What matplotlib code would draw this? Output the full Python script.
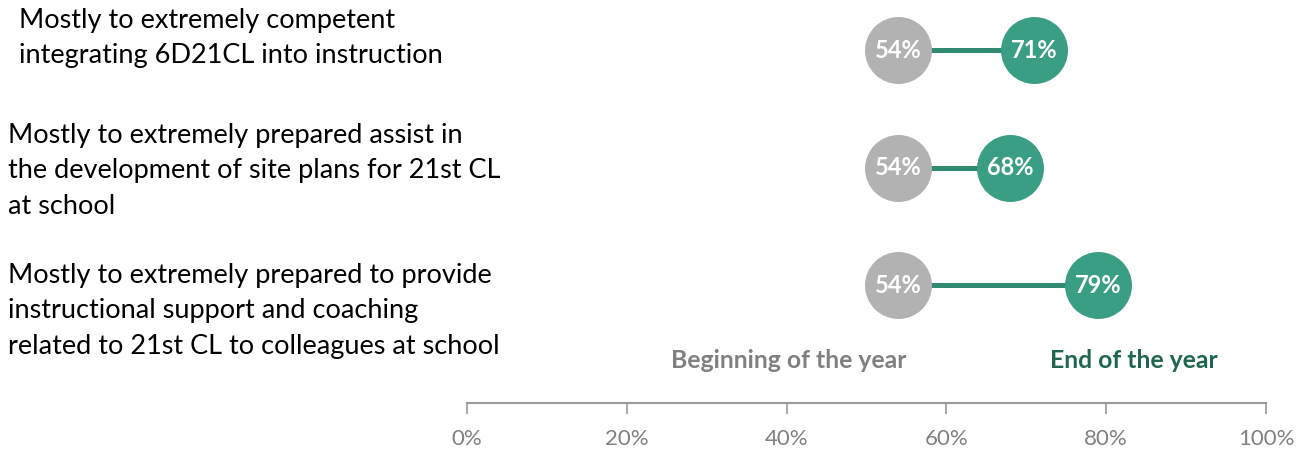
import matplotlib.pyplot as plt

# survey items, beginning vs end of year (% mostly to extremely)
CATEGORIES = [
    "Mostly to extremely competent\nintegrating 6D21CL into instruction",
    "Mostly to extremely prepared assist in\nthe development of site plans for 21st CL\nat school",
    "Mostly to extremely prepared to provide\ninstructional support and coaching\nrelated to 21st CL to colleagues at school",
]
BEGIN_PCT = [54, 54, 54]
END_PCT = [71, 68, 79]
TICKS = [0, 20, 40, 60, 80, 100]

GREY = "#b2b2b2"
GREEN = "#3a9e84"
LINE_GREEN = "#2f8a6f"
DARK_GREEN = "#1f6650"
TEXT_GREY = "#808080"

plt.rcParams["font.family"] = ["Lato", "DejaVu Sans"]

fig = plt.figure(figsize=(13.07, 4.5), dpi=100)
ax = fig.add_axes([467 / 1307, 47 / 450, 799 / 1307, 403 / 450])

rows = list(range(len(CATEGORIES)))
for y, b, e in zip(rows, BEGIN_PCT, END_PCT):
    ax.plot([b, e], [y, y], color=LINE_GREEN, lw=3.6, zorder=1, solid_capstyle="butt")
ax.scatter(BEGIN_PCT, rows, s=2325, color=GREY, zorder=2, linewidths=0)
ax.scatter(END_PCT, rows, s=2325, color=GREEN, zorder=2, linewidths=0)
for y, b, e in zip(rows, BEGIN_PCT, END_PCT):
    ax.text(b, y, f"{b}%", ha="center", va="center", color="white",
            fontsize=17, fontweight="bold", zorder=3)
    ax.text(e, y, f"{e}%", ha="center", va="center", color="white",
            fontsize=17, fontweight="bold", zorder=3)

ax.set_xlim(0, 100)
ax.set_ylim(3.0, -0.425)
ax.set_xticks(TICKS)
ax.set_xticklabels([f"{t}%" for t in TICKS], fontsize=16, color=TEXT_GREY)
ax.set_yticks([])
ax.tick_params(axis="x", length=8, width=1.2, color="#999999", pad=11)
for side in ["top", "right", "left"]:
    ax.spines[side].set_visible(False)
ax.spines["bottom"].set_color("#999999")
ax.spines["bottom"].set_linewidth(1.5)

# series labels just above the axis
ax.text(40.3, 2.64, "Beginning of the year", ha="center", va="center",
        fontsize=17.8, fontweight="bold", color=TEXT_GREY)
ax.text(83.4, 2.64, "End of the year", ha="center", va="center",
        fontsize=17.8, fontweight="bold", color=DARK_GREEN)

# category labels on the left
label_pos = [(19, 8), (8, 123), (8, 263)]
for text, (px, py) in zip(CATEGORIES, label_pos):
    fig.text(px / 1307, 1 - py / 450, text, ha="left", va="top",
             fontsize=19.5, linespacing=1.52, color="black")

fig.savefig("out.png", dpi=100)
